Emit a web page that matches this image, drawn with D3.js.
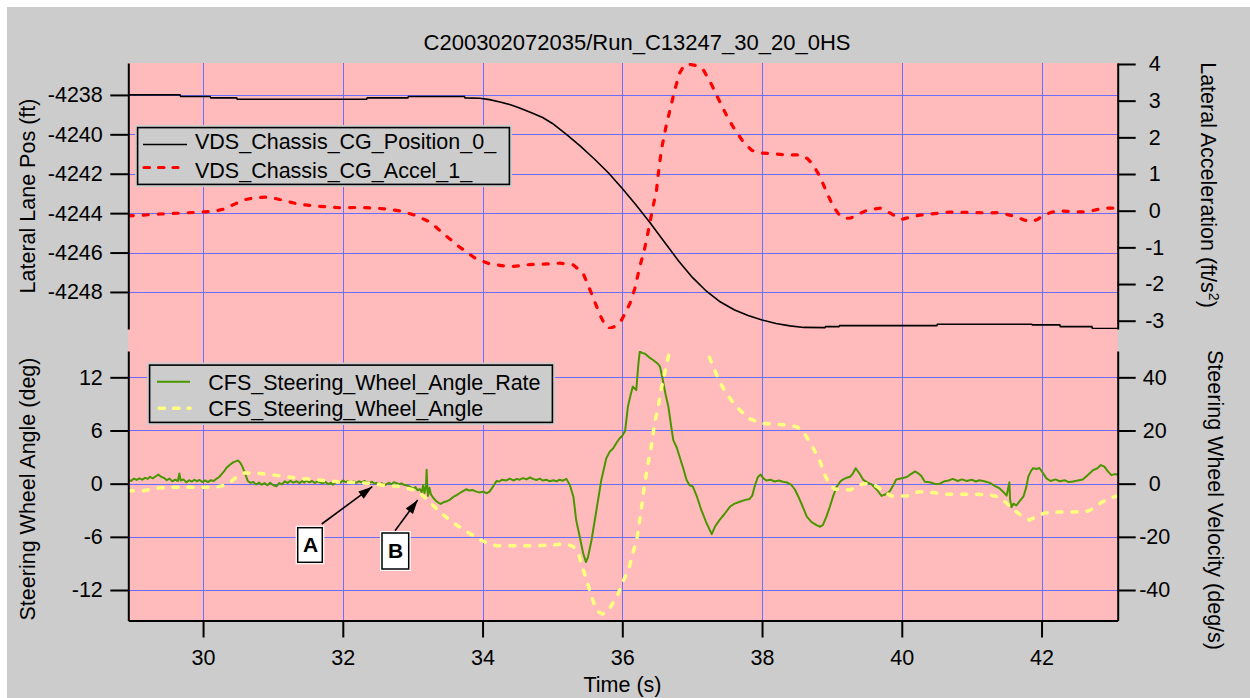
<!DOCTYPE html>
<html>
<head>
<meta charset="utf-8">
<script src="https://cdn.jsdelivr.net/npm/d3@7"></script>
<style>
  body { margin: 0; background: #ffffff; }
  svg { display: block; }
  text { font-family: "Liberation Sans", Arial, sans-serif; fill: #000; }
</style>
</head>
<body>
<svg id="chart" width="1250" height="698"></svg>
<script>
// ---- Run C13247: time base and tick values ----
const timeDomain = [28.93, 43.09];
const timeTicks = [30, 32, 34, 36, 38, 40, 42];
const posTicks = [-4248, -4246, -4244, -4242, -4240, -4238];
const accelTicks = [-3, -2, -1, 0, 1, 2, 3, 4];
const angleTicks = [-12, -6, 0, 6, 12];
const rateTicks = [-40, -20, 0, 20, 40];

// VDS_Chassis_CG_Position_0_  [time s, lateral lane position ft]
const positionKnots = [
  [28.93,-4238.0],[29.67,-4238.0],[29.68,-4238.08],[30.10,-4238.08],[30.11,-4238.15],[30.48,-4238.15],
  [30.49,-4238.22],[32.34,-4238.22],[32.35,-4238.15],[32.93,-4238.15],[32.94,-4238.08],[33.74,-4238.08],
  [33.75,-4238.15],[33.96,-4238.17],[34.10,-4238.24],[34.25,-4238.36],[34.40,-4238.50],[34.53,-4238.66],
  [34.70,-4238.90],[34.86,-4239.15],[35.00,-4239.45],[35.20,-4240.0],[35.40,-4240.6],[35.60,-4241.25],
  [35.80,-4241.95],[36.00,-4242.75],[36.20,-4243.6],[36.40,-4244.5],[36.60,-4245.45],[36.80,-4246.4],
  [37.00,-4247.25],[37.20,-4247.95],[37.40,-4248.5],[37.60,-4248.9],[37.80,-4249.2],[38.00,-4249.42],
  [38.20,-4249.6],[38.40,-4249.72],[38.60,-4249.8],[38.90,-4249.81],[38.91,-4249.76],[39.10,-4249.76],
  [39.11,-4249.71],[40.50,-4249.71],[40.51,-4249.64],[41.86,-4249.64],[41.87,-4249.67],[42.26,-4249.67],
  [42.27,-4249.76],[42.72,-4249.76],[42.73,-4249.86],[43.09,-4249.86]
];

// VDS_Chassis_CG_Accel_1_  [time s, lateral acceleration ft/s^2]
const accelKnots = [
  [28.93,-0.14],[29.15,-0.12],[29.38,-0.09],[29.65,-0.07],[29.95,-0.04],[30.15,-0.02],[30.31,0.05],
  [30.45,0.18],[30.60,0.30],[30.75,0.36],[30.95,0.37],[31.17,0.27],[31.38,0.17],[31.67,0.12],[31.96,0.08],
  [32.24,0.09],[32.53,0.06],[32.70,0.03],[32.82,-0.01],[33.03,-0.12],[33.25,-0.31],[33.46,-0.66],
  [33.67,-0.99],[33.89,-1.29],[34.10,-1.45],[34.39,-1.53],[34.67,-1.47],[34.96,-1.45],[35.11,-1.43],
  [35.30,-1.48],[35.44,-1.71],[35.53,-2.12],[35.68,-2.84],[35.76,-3.15],[35.82,-3.21],[35.90,-3.15],
  [35.99,-2.98],[36.11,-2.53],[36.18,-2.12],[36.25,-1.53],[36.32,-1.03],[36.37,-0.57],[36.44,0.11],
  [36.49,0.56],[36.51,0.93],[36.56,1.66],[36.63,2.34],[36.70,2.88],[36.75,3.29],[36.82,3.75],[36.88,3.95],
  [36.94,4.0],[37.05,3.96],[37.16,3.84],[37.28,3.43],[37.37,3.07],[37.49,2.61],[37.59,2.27],[37.73,1.88],
  [37.85,1.65],[37.94,1.58],[38.16,1.55],[38.35,1.52],[38.54,1.52],[38.65,1.42],[38.73,1.25],[38.83,0.93],
  [38.92,0.52],[39.02,0.11],[39.10,-0.10],[39.18,-0.21],[39.27,-0.20],[39.35,-0.12],[39.51,0.02],
  [39.69,0.07],[39.83,-0.06],[39.93,-0.18],[40.01,-0.23],[40.12,-0.18],[40.25,-0.12],[40.68,-0.04],
  [41.00,-0.05],[41.26,-0.06],[41.40,-0.05],[41.62,-0.16],[41.76,-0.26],[41.86,-0.30],[41.94,-0.24],
  [42.02,-0.14],[42.13,-0.05],[42.24,0.0],[42.45,-0.03],[42.66,-0.03],[42.88,0.07],[43.09,0.07]
];

// CFS_Steering_Wheel_Angle_Rate  [time s, deg/s]
const rateKnots = [
  [28.93,1.6],[28.97,1.0],[29.01,1.9],[29.05,1.4],[29.09,2.0],[29.13,1.5],[29.17,2.2],[29.21,1.8],[29.24,2.6],
  [29.28,2.0],[29.32,2.7],[29.36,3.4],[29.40,2.6],[29.44,2.2],[29.48,1.3],[29.52,1.9],[29.56,0.9],[29.60,1.5],
  [29.64,1.0],[29.66,3.8],[29.68,1.2],[29.72,1.6],[29.76,0.5],[29.80,1.3],[29.84,0.8],[29.88,1.5],[29.91,0.9],
  [29.95,1.4],[29.99,0.6],[30.03,1.2],[30.07,0.6],[30.11,1.3],[30.15,1.0],[30.19,1.8],[30.23,2.5],[30.26,3.4],
  [30.30,4.6],[30.33,5.8],[30.38,7.0],[30.43,8.0],[30.47,8.4],[30.50,8.7],[30.53,8.0],[30.56,6.6],[30.60,3.9],
  [30.64,1.0],[30.68,0.3],[30.72,0.6],[30.76,-0.3],[30.80,0.4],[30.84,-0.4],[30.88,0.2],[30.92,-0.6],[30.96,0.3],
  [31.00,-0.5],[31.05,-1.0],[31.09,0.2],[31.13,-0.3],[31.17,0.9],[31.21,0.3],[31.25,1.1],[31.29,0.4],[31.34,0.9],
  [31.38,0.2],[31.42,1.0],[31.45,0.4],[31.48,1.2],[31.52,0.5],[31.56,1.0],[31.60,0.3],[31.64,0.9],[31.67,0.5],
  [31.71,0.1],[31.75,0.7],[31.79,-0.2],[31.83,0.3],[31.86,-0.4],[31.90,0.5],[31.94,0.9],[31.97,0.4],[32.00,1.2],
  [32.04,0.6],[32.08,1.0],[32.12,0.4],[32.15,0.9],[32.19,0.3],[32.23,0.9],[32.27,0.5],[32.31,1.0],[32.34,0.6],
  [32.38,0.3],[32.42,0.7],[32.45,0.0],[32.48,0.3],[32.52,-0.4],[32.56,0.2],[32.59,-0.6],[32.62,-0.3],[32.66,0.3],
  [32.70,-0.2],[32.73,0.5],[32.77,0.2],[32.80,-0.3],[32.84,0.1],[32.87,-0.4],[32.91,-0.6],[32.95,-1.0],[32.98,-1.5],
  [33.01,-1.9],[33.04,-1.3],[33.07,-2.5],[33.10,-2.0],[33.13,-3.2],[33.15,-0.5],[33.17,-3.5],[33.19,-1.0],
  [33.20,5.2],[33.21,-2.0],[33.22,-4.6],[33.24,-1.5],[33.26,-4.0],[33.29,-5.2],[33.33,-6.4],[33.37,-7.2],
  [33.40,-7.6],[33.44,-7.0],[33.49,-6.6],[33.53,-6.1],[33.58,-5.0],[33.63,-4.3],[33.67,-3.6],[33.72,-2.8],
  [33.77,-2.1],[33.81,-2.6],[33.86,-2.4],[33.91,-3.0],[33.96,-3.3],[34.01,-3.0],[34.06,-3.6],[34.10,-3.0],
  [34.15,-1.1],[34.20,1.0],[34.24,0.8],[34.28,1.5],[34.34,1.2],[34.39,1.9],[34.44,1.2],[34.49,1.8],[34.53,1.5],
  [34.58,2.1],[34.63,1.6],[34.68,2.4],[34.72,1.8],[34.77,1.4],[34.82,1.9],[34.86,1.2],[34.91,1.5],[34.96,0.9],
  [35.01,1.3],[35.06,0.9],[35.10,1.5],[35.15,1.1],[35.20,1.8],[35.25,-0.5],[35.30,-4.9],[35.34,-13.7],
  [35.39,-19.9],[35.44,-26.2],[35.48,-29.5],[35.51,-27.5],[35.56,-21.2],[35.63,-9.9],[35.70,1.4],[35.77,9.5],
  [35.82,12.0],[35.87,13.3],[35.92,15.5],[35.96,17.0],[36.00,18.0],[36.04,19.8],[36.08,28.9],[36.12,33.5],
  [36.15,36.5],[36.20,35.2],[36.23,45.0],[36.25,49.8],[36.28,49.2],[36.32,49.0],[36.38,47.6],[36.44,46.5],
  [36.50,45.3],[36.54,44.0],[36.58,39.0],[36.62,33.5],[36.66,28.9],[36.70,21.5],[36.73,16.4],[36.78,13.5],
  [36.82,10.1],[36.87,6.0],[36.92,1.4],[36.96,-0.5],[37.01,-1.1],[37.07,-5.0],[37.13,-9.9],[37.20,-14.5],
  [37.28,-19.0],[37.33,-16.0],[37.39,-13.7],[37.46,-11.5],[37.54,-8.7],[37.60,-7.6],[37.68,-6.8],[37.75,-6.2],
  [37.82,-5.8],[37.86,-4.5],[37.90,-0.5],[37.94,2.5],[37.98,3.4],[38.02,2.0],[38.06,1.2],[38.12,1.5],[38.18,0.8],
  [38.24,1.2],[38.30,0.7],[38.36,0.4],[38.42,-0.5],[38.47,-2.2],[38.52,-4.9],[38.58,-8.5],[38.64,-12.4],
  [38.71,-14.5],[38.78,-15.6],[38.83,-16.2],[38.87,-15.6],[38.92,-12.5],[38.97,-8.7],[39.02,-4.5],[39.07,-1.1],
  [39.12,0.8],[39.16,1.6],[39.21,2.2],[39.26,2.6],[39.30,3.8],[39.34,5.8],[39.39,4.0],[39.45,1.4],[39.51,0.4],
  [39.57,-0.3],[39.64,-2.2],[39.71,-4.6],[39.77,-4.0],[39.83,-2.8],[39.88,-0.5],[39.92,1.6],[40.00,2.0],
  [40.07,2.5],[40.13,3.6],[40.19,4.6],[40.24,3.8],[40.28,2.9],[40.33,0.7],[40.40,0.5],[40.47,0.0],[40.54,-0.1],
  [40.60,0.8],[40.67,1.2],[40.73,1.8],[40.80,1.0],[40.86,1.6],[40.93,1.0],[41.00,1.5],[41.06,0.8],[41.11,1.3],
  [41.18,0.9],[41.26,0.3],[41.33,-0.8],[41.40,-1.8],[41.45,-3.0],[41.50,-4.5],[41.52,-2.0],[41.54,0.5],
  [41.55,-6.0],[41.57,-8.9],[41.60,-7.5],[41.64,-8.2],[41.69,-6.5],[41.74,-4.9],[41.78,-1.5],[41.81,2.6],
  [41.85,4.8],[41.88,5.8],[41.93,5.5],[41.97,5.9],[42.02,4.0],[42.07,2.0],[42.13,1.0],[42.20,1.6],[42.26,0.9],
  [42.33,1.3],[42.39,0.6],[42.45,0.8],[42.52,1.2],[42.59,1.6],[42.66,3.2],[42.74,5.1],[42.80,5.8],[42.85,7.0],
  [42.90,6.4],[42.95,4.6],[43.00,3.2],[43.05,3.6],[43.10,3.3]
];

// CFS_Steering_Wheel_Angle  [time s, deg]
const angleKnots = [
  [28.93,-0.8],[29.14,-0.8],[29.36,-0.5],[29.57,-0.4],[29.95,-0.4],[30.17,-0.4],[30.30,-0.2],[30.38,0.1],
  [30.47,0.7],[30.57,1.2],[30.76,1.2],[30.98,1.0],[31.17,0.8],[31.38,0.6],[31.57,0.5],[31.79,0.3],[31.98,0.2],
  [32.20,0.1],[32.39,0.04],[32.60,-0.2],[32.81,-0.3],[33.01,-0.7],[33.10,-1.1],[33.20,-1.7],[33.36,-3.0],
  [33.56,-4.3],[33.77,-5.4],[33.96,-6.3],[34.10,-6.8],[34.20,-7.0],[34.80,-7.0],[35.20,-6.8],[35.30,-7.1],
  [35.38,-8.1],[35.44,-9.7],[35.51,-11.4],[35.56,-12.8],[35.64,-14.4],[35.72,-14.7],[35.80,-14.3],
  [35.92,-12.8],[36.02,-10.9],[36.10,-9.4],[36.15,-7.9],[36.21,-6.2],[36.27,-3.0],[36.32,0.0],[36.37,2.3],
  [36.43,4.9],[36.46,6.8],[36.51,8.5],[36.56,10.8],[36.62,13.0],[36.68,15.0],[36.75,16.8],[36.85,18.0],
  [36.95,18.4],[37.05,17.8],[37.15,16.0],[37.22,14.8],[37.28,13.6],[37.37,11.9],[37.47,10.4],[37.61,8.9],
  [37.80,7.4],[37.99,6.8],[38.21,6.7],[38.40,6.6],[38.50,6.4],[38.59,5.9],[38.72,4.2],[38.82,2.7],[38.90,1.0],
  [38.97,-0.2],[39.04,-0.6],[39.26,-0.7],[39.36,-0.3],[39.45,0.0],[39.55,0.0],[39.64,-0.3],[39.75,-0.9],
  [39.85,-1.4],[40.07,-1.4],[40.20,-1.0],[40.26,-0.9],[40.45,-1.0],[40.66,-1.2],[40.88,-1.2],[41.07,-1.2],
  [41.28,-1.3],[41.38,-1.5],[41.47,-2.0],[41.57,-2.7],[41.66,-3.3],[41.75,-3.8],[41.83,-4.1],[41.95,-3.6],
  [42.05,-3.3],[42.24,-3.2],[42.45,-3.2],[42.67,-3.1],[42.76,-2.7],[42.86,-2.1],[42.96,-1.7],[43.07,-1.4],
  [43.09,-1.4]
];

const titleText = "C200302072035/Run_C13247_30_20_0HS";

// ---- layout ----
const W = 1250, H = 698;
const plotL = 128.3, plotR = 1117.7;
const top1 = 63, bot1 = 329;      // upper panel
const top2 = 351, bot2 = 620.5;   // lower panel

const COL = {
  frame: "#cccccc", plot: "#ffbbbb", grid: "#6c6cff",
  pos: "#000000", accel: "#ff0000", rate: "#4a9600", angle: "#ffff80"
};
const FS = 21.5;

const svg = d3.select("#chart");

// ---- scales ----
const x = d3.scaleLinear().domain(timeDomain).range([plotL, plotR]);
const yPos = d3.scaleLinear().domain([-4249.88, -4236.38]).range([bot1, top1]);
const yAcc = d3.scaleLinear().domain([-3.226, 4.027]).range([bot1, top1]);
const yAng = d3.scaleLinear().domain([-15.44, 14.97]).range([bot2, top2]);
const yRate = d3.scaleLinear().domain([-51.47, 49.9]).range([bot2, top2]);

// crisp 1px grid lines
const snap = v => Math.round(v) + 0.5;

// ---- background ----
svg.append("rect").attr("x", 7).attr("y", 7).attr("width", W - 7).attr("height", H - 7).attr("fill", COL.frame);
svg.append("rect").attr("x", plotL).attr("y", top1).attr("width", plotR - plotL).attr("height", bot2 - top1).attr("fill", COL.plot);

// ---- grid ----
const grid = svg.append("g").attr("stroke", COL.grid).attr("stroke-width", 1);
grid.selectAll("line.v").data(timeTicks).join("line").attr("class", "v")
  .attr("x1", d => snap(x(d))).attr("x2", d => snap(x(d))).attr("y1", top1).attr("y2", bot2);
grid.selectAll("line.h1").data(posTicks).join("line").attr("class", "h1")
  .attr("x1", plotL).attr("x2", plotR).attr("y1", d => snap(yPos(d))).attr("y2", d => snap(yPos(d)));
grid.selectAll("line.h2").data(angleTicks).join("line").attr("class", "h2")
  .attr("x1", plotL).attr("x2", plotR).attr("y1", d => snap(yAng(d))).attr("y2", d => snap(yAng(d)));

// ---- clipping for each panel ----
const defs = svg.append("defs");
defs.append("clipPath").attr("id", "clipTop").append("rect")
  .attr("x", plotL).attr("y", top1).attr("width", plotR - plotL).attr("height", bot1 - top1);
defs.append("clipPath").attr("id", "clipBot").append("rect")
  .attr("x", plotL).attr("y", top2).attr("width", plotR - plotL).attr("height", bot2 - top2);

// ---- traces ----
const lineOf = ys => d3.line().x(d => x(d[0])).y(d => ys(d[1]));

const gTop = svg.append("g").attr("clip-path", "url(#clipTop)");
gTop.append("path").datum(positionKnots).attr("d", lineOf(yPos))
  .attr("fill", "none").attr("stroke", COL.pos).attr("stroke-width", 1.6);
gTop.append("path").datum(accelKnots).attr("d", lineOf(yAcc))
  .attr("fill", "none").attr("stroke", COL.accel).attr("stroke-width", 3.2)
  .attr("stroke-dasharray", "5,10").attr("stroke-linecap", "round");

const gBot = svg.append("g").attr("clip-path", "url(#clipBot)");
gBot.append("path").datum(rateKnots).attr("d", lineOf(yRate))
  .attr("fill", "none").attr("stroke", COL.rate).attr("stroke-width", 2).attr("stroke-linejoin", "round");
gBot.append("path").datum(angleKnots).attr("d", lineOf(yAng))
  .attr("fill", "none").attr("stroke", COL.angle).attr("stroke-width", 3.5)
  .attr("stroke-dasharray", "5,10").attr("stroke-linecap", "round");

// ---- axes ----
const fmt = d => String(d);
function styleAxis(g) {
  g.attr("font-size", null).attr("font-family", null);
  g.select(".domain").attr("stroke", "#000").attr("stroke-width", 2);
  g.selectAll(".tick line").attr("stroke", "#000").attr("stroke-width", 2);
  g.selectAll(".tick text").style("font-size", FS + "px").attr("fill", "#000");
}
function rightLabels(g) {
  g.selectAll(".tick text").attr("x", 37).attr("text-anchor", "middle");
}

svg.append("g").attr("transform", `translate(${plotL},0)`)
  .call(d3.axisLeft(yPos).tickValues(posTicks).tickFormat(fmt).tickSize(18).tickSizeOuter(0).tickPadding(7.5))
  .call(styleAxis);
svg.append("g").attr("transform", `translate(${plotR},0)`)
  .call(d3.axisRight(yAcc).tickValues(accelTicks).tickFormat(fmt).tickSize(18).tickSizeOuter(0))
  .call(styleAxis).call(rightLabels);
svg.append("g").attr("transform", `translate(${plotL},0)`)
  .call(d3.axisLeft(yAng).tickValues(angleTicks).tickFormat(fmt).tickSize(18).tickSizeOuter(0).tickPadding(7.5))
  .call(styleAxis);
svg.append("g").attr("transform", `translate(${plotR},0)`)
  .call(d3.axisRight(yRate).tickValues(rateTicks).tickFormat(fmt).tickSize(18).tickSizeOuter(0))
  .call(styleAxis).call(rightLabels);
svg.append("g").attr("transform", `translate(0,${bot2})`)
  .call(d3.axisBottom(x).tickValues(timeTicks).tickFormat(fmt).tickSize(17).tickSizeOuter(0).tickPadding(12.5))
  .call(styleAxis);

// ---- titles ----
svg.append("text").attr("x", 637).attr("y", 49.5).attr("text-anchor", "middle")
  .style("font-size", "22px").text(titleText);
svg.append("text").attr("x", 622.5).attr("y", 692).attr("text-anchor", "middle")
  .style("font-size", FS + "px").text("Time (s)");

function vLabel(cx, cy, angle, content) {
  return svg.append("text").attr("transform", `translate(${cx},${cy}) rotate(${angle})`)
    .attr("text-anchor", "middle").style("font-size", FS + "px").text(content);
}
vLabel(34.5, 196, -90, "Lateral Lane Pos (ft)");
vLabel(34.5, 489, -90, "Steering Wheel Angle (deg)");
const accTitle = vLabel(1200.5, 185, 90, "Lateral Acceleration (ft/s");
accTitle.append("tspan").attr("dy", -8).style("font-size", "14px").text("2");
accTitle.append("tspan").attr("dy", 8).text(")");
vLabel(1207.5, 500, 90, "Steering Wheel Velocity (deg/s)");

// ---- legends ----
function legend(x0, y0, w, h, rows) {
  const g = svg.append("g");
  g.append("rect").attr("x", x0).attr("y", y0).attr("width", w).attr("height", h).attr("fill", COL.frame);
  g.append("rect").attr("x", x0 + 2.6).attr("y", y0 + 2.6).attr("width", w - 5.2).attr("height", h - 5.2)
    .attr("fill", "none").attr("stroke", "#000").attr("stroke-width", 1.6);
  rows.forEach(r => {
    const ln = g.append("line").attr("x1", r.lx1).attr("x2", r.lx2).attr("y1", r.ly).attr("y2", r.ly)
      .attr("stroke", r.color).attr("stroke-width", r.width);
    if (r.dash) ln.attr("stroke-dasharray", r.dash).attr("stroke-linecap", "round");
    g.append("text").attr("x", r.tx).attr("y", r.ty).style("font-size", FS + "px").text(r.label);
  });
}
legend(135, 125, 377, 62, [
  { label: "VDS_Chassis_CG_Position_0_", color: COL.pos, width: 1.6, lx1: 143, lx2: 187, ly: 144.5, tx: 195, ty: 149 },
  { label: "VDS_Chassis_CG_Accel_1_", color: COL.accel, width: 3.2, dash: "5.5,9", lx1: 144, lx2: 178, ly: 167.5, tx: 195, ty: 177.5 }
]);
legend(147, 362.5, 408, 62.5, [
  { label: "CFS_Steering_Wheel_Angle_Rate", color: COL.rate, width: 2, lx1: 157, lx2: 190, ly: 381.7, tx: 208.3, ty: 390 },
  { label: "CFS_Steering_Wheel_Angle", color: COL.angle, width: 3.5, dash: "5.5,9", lx1: 159, lx2: 190, ly: 408.3, tx: 208.3, ty: 416 }
]);

// ---- annotation tags A and B ----
function tag(bx, by, bw, bh, letter, tx, ty, from, to) {
  const g = svg.append("g");
  g.append("line").attr("x1", from[0]).attr("y1", from[1]).attr("x2", to[0]).attr("y2", to[1])
    .attr("stroke", "#000").attr("stroke-width", 1.6);
  const ang = Math.atan2(to[1] - from[1], to[0] - from[0]);
  const len = 14, half = 4.5;
  const bxp = to[0] - len * Math.cos(ang), byp = to[1] - len * Math.sin(ang);
  const pts = [
    [to[0], to[1]],
    [bxp + half * Math.sin(ang), byp - half * Math.cos(ang)],
    [bxp - half * Math.sin(ang), byp + half * Math.cos(ang)]
  ];
  g.append("polygon").attr("points", pts.map(p => p.join(",")).join(" ")).attr("fill", "#000");
  g.append("rect").attr("x", bx).attr("y", by).attr("width", bw).attr("height", bh).attr("fill", "#fff");
  g.append("rect").attr("x", bx + 2).attr("y", by + 2).attr("width", bw - 4).attr("height", bh - 4)
    .attr("fill", "none").attr("stroke", "#000").attr("stroke-width", 1.5);
  g.append("text").attr("x", tx).attr("y", ty).attr("text-anchor", "middle")
    .style("font-size", "21px").style("font-weight", "bold").text(letter);
}
tag(295.7, 525.7, 28.6, 38.6, "A", 310.5, 551.7, [321.7, 524], [372.3, 486.7]);
tag(380, 531, 30.7, 40, "B", 395.5, 557.5, [395, 530.7], [417.7, 500]);
</script>
</body>
</html>
